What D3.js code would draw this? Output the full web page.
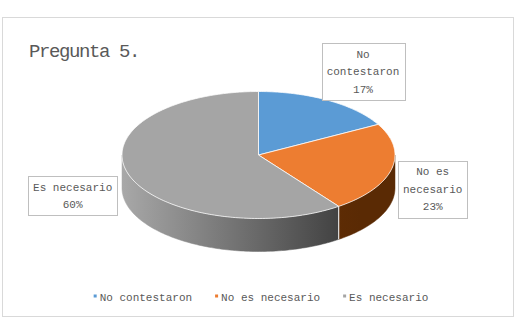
<!DOCTYPE html>
<meta charset="utf-8">
<html>
<head>
<script src="https://cdnjs.cloudflare.com/ajax/libs/d3/7.8.5/d3.min.js"></script>
<style>
body {
  margin: 0px;
  background: #fff;
}
text {
  font-family: "Liberation Mono", "DejaVu Sans Mono", monospace;
  fill: #595959;
}
.title {
  font-size: 19px;
  letter-spacing: -1.4px;
}
.lbl, .legend text {
  font-size: 11px;
}
</style>
</head>
<body>
<script>
// values
var categories = ["No contestaron", "No es necesario", "Es necesario"];
var values = [17, 23, 60];
var labelLines = [["No", "contestaron", "17%"], ["No es", "necesario", "23%"], ["Es necesario", "60%"]];

var colors = ["#5B9BD5", "#ED7D31", "#A5A5A5"];
var sideColors = [["#2f5f8f", "#1f4a75"], ["#7a3a08", "#5a2a04"], ["#a8a8a8", "#383838"]];
// label box offsets from the slice edge point (layout only)
var labelOffsets = [[35, -29], [41, 20], [-56, 21]];

var width = 518, height = 321;
var cx = 258.5, cy = 155, rx = 136.5, ry = 63.5, depth = 33;

var svg = d3.select("body").append("svg")
  .attr("width", width)
  .attr("height", height);

// chart frame
svg.append("rect")
  .attr("x", 2.5).attr("y", 17.5)
  .attr("width", 511).attr("height", 299)
  .attr("fill", "#fff")
  .attr("stroke", "#d9d9d9");

svg.append("text")
  .attr("class", "title")
  .attr("x", 29).attr("y", 57)
  .text("Pregunta 5.");

var pie = d3.pie().sort(null).value(function(d){ return d; });
var arcs = pie(values);

function pt(a, dy) {
  return [cx + rx * Math.sin(a), cy - ry * Math.cos(a) + (dy || 0)];
}
function arcPts(a0, a1, dy) {
  var n = Math.max(2, Math.ceil(Math.abs(a1 - a0) / 0.02)), out = [];
  for (var i = 0; i <= n; i++) out.push(pt(a0 + (a1 - a0) * i / n, dy));
  return out;
}

var defs = svg.append("defs");
sideColors.forEach(function(c, i){
  var g = defs.append("linearGradient")
    .attr("id", "side" + i)
    .attr("gradientUnits", "userSpaceOnUse")
    .attr("x1", cx - rx).attr("x2", cx + rx * 0.75)
    .attr("y1", 0).attr("y2", 0);
  g.append("stop").attr("offset", "0%").attr("stop-color", c[0]);
  g.append("stop").attr("offset", "100%").attr("stop-color", c[1]);
});

var line = d3.line();

// side walls: only the front half (90deg .. 270deg) shows
var gSide = svg.append("g");
arcs.forEach(function(d, i){
  var a0 = Math.max(d.startAngle, Math.PI / 2),
    a1 = Math.min(d.endAngle, Math.PI * 1.5);
  if (a1 <= a0) return;
  var top = arcPts(a0, a1, 0),
    bot = arcPts(a1, a0, depth);
  gSide.append("path")
    .attr("d", line(top.concat(bot)) + "Z")
    .attr("fill", "url(#side" + i + ")")
    .attr("stroke", "url(#side" + i + ")")
    .attr("stroke-width", 0.5);
  // white seam where a slice edge meets the wall
  if (d.startAngle > Math.PI / 2 && d.startAngle < Math.PI * 1.5) {
    gSide.append("path")
      .attr("d", line([pt(d.startAngle, 0), pt(d.startAngle, depth)]))
      .attr("stroke", "#fff").attr("stroke-width", 1);
  }
});

// top faces
var gTop = svg.append("g");
arcs.forEach(function(d, i){
  var p = [[cx, cy]].concat(arcPts(d.startAngle, d.endAngle, 0));
  gTop.append("path")
    .attr("d", line(p) + "Z")
    .attr("fill", colors[i])
    .attr("stroke", "#fff")
    .attr("stroke-width", 0.75)
    .attr("stroke-linejoin", "round");
});

// data labels in boxes
var lineH = 17.5;
arcs.forEach(function(d, i){
  var mid = (d.startAngle + d.endAngle) / 2,
    e = pt(mid, 0),
    lx = e[0] + labelOffsets[i][0],
    ly = e[1] + labelOffsets[i][1];
  var g = svg.append("g");
  var lines = labelLines[i];
  var t = g.append("text")
    .attr("class", "lbl")
    .attr("text-anchor", "middle");
  lines.forEach(function(s, k){
    t.append("tspan")
      .attr("x", lx)
      .attr("y", ly + (k - (lines.length - 1) / 2) * lineH + 4)
      .text(s);
  });
  var bb = t.node().getBBox();
  g.insert("rect", "text")
    .attr("x", Math.round(bb.x - 5) + 0.5)
    .attr("y", Math.round(ly - lines.length * lineH / 2 - 2) + 0.5)
    .attr("width", Math.round(bb.width + 10))
    .attr("height", Math.round(lines.length * lineH + 4))
    .attr("fill", "#fff")
    .attr("stroke", "#bfbfbf");
});

// legend
var legend = svg.append("g").attr("class", "legend");
var xpos = 0;
categories.forEach(function(c, i){
  var g = legend.append("g");
  g.append("rect")
    .attr("x", 0).attr("y", -2.5)
    .attr("width", 3).attr("height", 3)
    .attr("fill", colors[i]);
  var t = g.append("text")
    .attr("x", 6).attr("y", 4)
    .text(c);
  var w = 6 + t.node().getComputedTextLength();
  g.attr("transform", "translate(" + xpos + ",0)");
  xpos += w + 23;
});
var total = xpos - 23;
legend.attr("transform", "translate(" + (261 - total / 2) + ",297)");
</script>
</body>
</html>
